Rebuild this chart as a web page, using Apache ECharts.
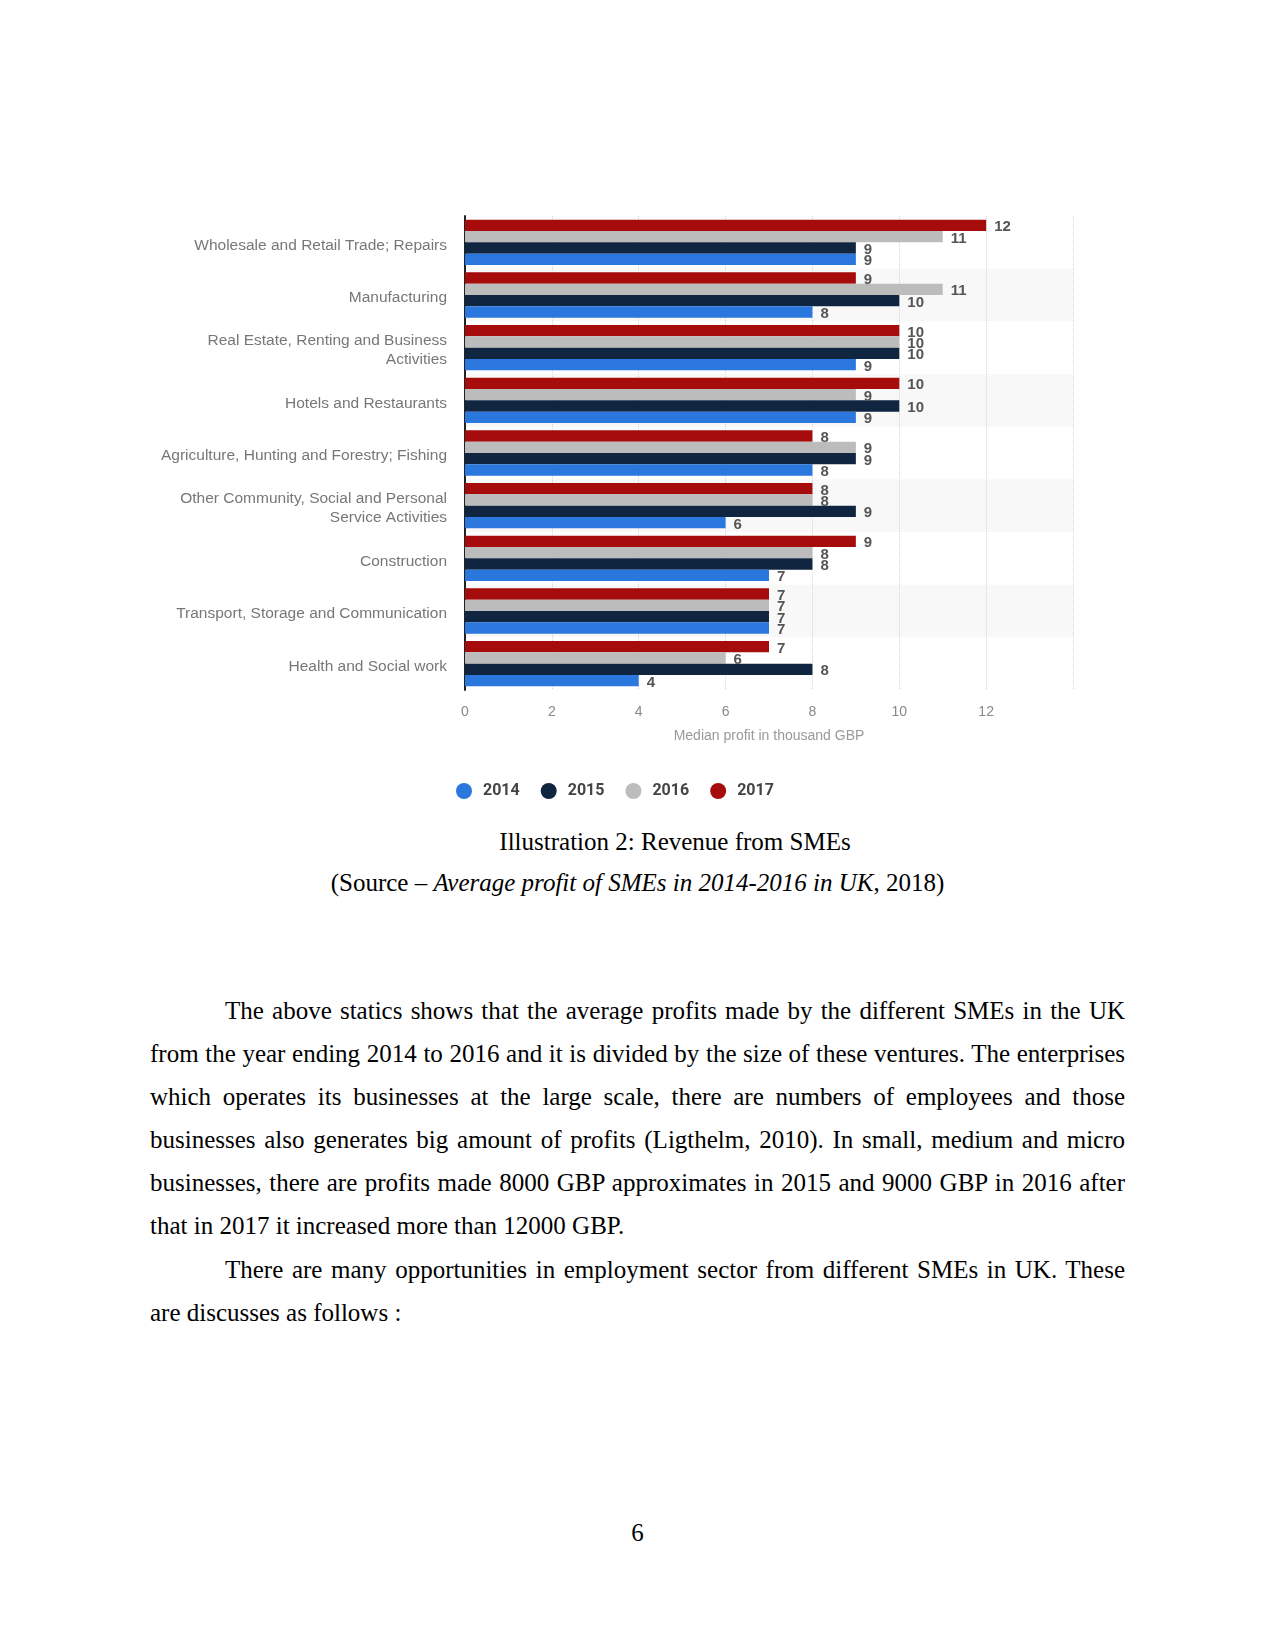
<!DOCTYPE html>
<html>
<head>
<meta charset="utf-8">
<script src="https://cdn.jsdelivr.net/npm/echarts@6/dist/echarts.min.js"></script>
<style>
  html, body { margin: 0; padding: 0; background: #fff; }
  body { width: 1275px; height: 1651px; position: relative; overflow: hidden; }
  #chart { position: absolute; left: 0; top: 0; width: 1275px; height: 820px; }
  .serif { font-family: "Liberation Serif", "DejaVu Serif", serif; font-size: 25px; color: #000; }
  #cap1 { position: absolute; left: 0; width: 1350px; top: 820px; text-align: center; line-height: 43px; }
  #cap2 { position: absolute; left: 0; width: 1275px; top: 861px; text-align: center; line-height: 43px; }
  .para { position: absolute; left: 150px; width: 975px; text-align: justify; text-indent: 75px; line-height: 43.1px; margin: 0; }
  #p1 { top: 989px; }
  #p2 { top: 1248px; }
  #pnum { position: absolute; left: 0; width: 1275px; top: 1511px; text-align: center; line-height: 43px; }
</style>
</head>
<body>
<div id="chart"></div>
<div id="cap1" class="serif">Illustration 2: Revenue from SMEs</div>
<div id="cap2" class="serif">(Source – <i>Average profit of SMEs in 2014-2016 in UK</i>, 2018)</div>
<p id="p1" class="serif para">The above statics shows that the average profits made by the different SMEs in the UK from the year ending 2014 to 2016 and it is divided by the size of these ventures. The enterprises which operates its businesses at the large scale, there are numbers of employees and those businesses also generates big amount of profits (Ligthelm, 2010). In small, medium and micro businesses, there are profits made 8000 GBP approximates in 2015 and 9000 GBP in 2016 after that in 2017 it increased more than 12000 GBP.</p>
<p id="p2" class="serif para">There are many opportunities in employment sector from different SMEs in UK. These are discusses as follows :</p>
<div id="pnum" class="serif">6</div>
<script>
const categories = [
  'Wholesale and Retail Trade; Repairs',
  'Manufacturing',
  'Real Estate, Renting and Business\nActivities',
  'Hotels and Restaurants',
  'Agriculture, Hunting and Forestry; Fishing',
  'Other Community, Social and Personal\nService Activities',
  'Construction',
  'Transport, Storage and Communication',
  'Health and Social work'
];
const years = ['2014', '2015', '2016', '2017'];
const v2014 = [9, 8, 9, 9, 8, 6, 7, 7, 4];
const v2015 = [9, 10, 10, 10, 9, 9, 8, 7, 8];
const v2016 = [11, 11, 10, 9, 9, 8, 8, 7, 6];
const v2017 = [12, 9, 10, 10, 8, 8, 9, 7, 7];
const xTicks = [0, 2, 4, 6, 8, 10, 12];

const colors = { '2014': '#2a77dd', '2015': '#10253f', '2016': '#bcbcbc', '2017': '#a60c0c' };
const valuesByYear = { '2014': v2014, '2015': v2015, '2016': v2016, '2017': v2017 };

const chart = echarts.init(document.getElementById('chart'), null, { renderer: 'canvas' });
const seriesOrder = ['2017', '2016', '2015', '2014'];
const series = seriesOrder.map(y => ({
  name: y,
  type: 'bar',
  data: valuesByYear[y],
  itemStyle: { color: colors[y] },
  barGap: '0%',
  barCategoryGap: '14%',
  label: {
    show: true,
    position: 'right',
    distance: 8,
    offset: [0, 2],
    color: '#555',
    fontWeight: 'bold',
    fontSize: 15,
    fontFamily: '"Liberation Sans Narrow", "Liberation Sans", sans-serif'
  }
}));

chart.setOption({
  animation: false,
  backgroundColor: '#fff',
  textStyle: { fontFamily: '"Liberation Sans", Arial, sans-serif' },
  grid: { left: 465, top: 216, width: 608, height: 474, containLabel: false },
  legend: {
    data: years,
    left: 451,
    top: 778,
    icon: 'circle',
    itemWidth: 28,
    itemHeight: 16,
    itemGap: 21,
    textStyle: { color: '#444', fontWeight: 'bold', fontSize: 16, fontFamily: 'Roboto, sans-serif' }
  },
  xAxis: {
    type: 'value',
    min: 0,
    max: 14,
    interval: 2,
    axisLine: { show: false },
    axisTick: { show: false },
    axisLabel: {
      color: '#888', fontSize: 14, margin: 15,
      formatter: v => (xTicks.indexOf(v) >= 0 ? String(v) : '')
    },
    splitLine: { show: true, lineStyle: { type: 'dotted', color: '#d4d4d4', width: 1 } },
    name: 'Median profit in thousand GBP',
    nameLocation: 'middle',
    nameGap: 39,
    nameTextStyle: { color: '#999', fontSize: 14 }
  },
  yAxis: {
    type: 'category',
    data: categories,
    inverse: true,
    axisLine: { show: true, lineStyle: { color: '#222', width: 2 } },
    axisTick: { show: false },
    axisLabel: {
      color: '#777', fontSize: 15.5, margin: 18, align: 'right',
      formatter: v => '{s|}\n' + v.split('\n').map(l => '{t|' + l + '}').join('\n'),
      rich: {
        s: { height: 6, lineHeight: 6, fontSize: 4 },
        t: { color: '#777', fontSize: 15.5, lineHeight: 19, align: 'right' }
      }
    },
    splitArea: { show: true, areaStyle: { color: ['rgba(255,255,255,0)', '#f8f8f8'] } }
  },
  series: series
});
</script>
</body>
</html>
